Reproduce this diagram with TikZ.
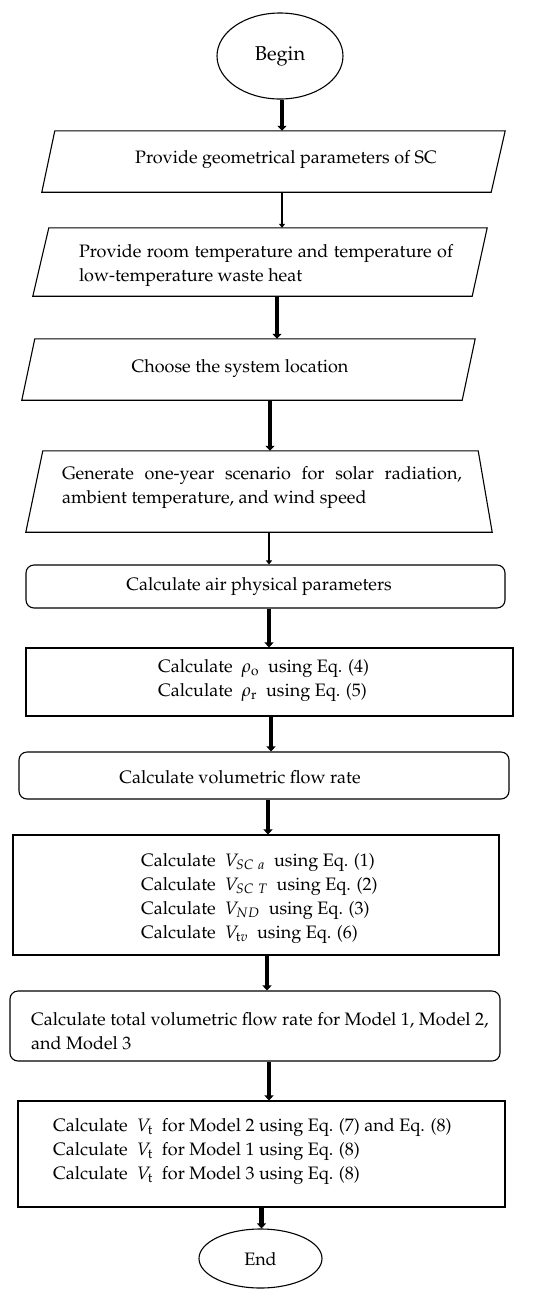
\documentclass[tikz,border=0pt]{standalone}
\usepackage[T1]{fontenc}
\usepackage{mathpazo}
\usepackage{tikz}
\usetikzlibrary{arrows.meta}
\usetikzlibrary{shapes.geometric}

\tikzset{
	edge/.style={line width=1.1pt, line join=miter},
	term/.style={ellipse, draw, edge, inner sep=0pt},
	io/.style={rectangle, inner sep=0pt},
	proc/.style={rectangle, draw, edge, inner sep=0pt},
	rproc/.style={proc, rounded corners=8pt},
	txt/.style={inner sep=0pt, font=\fontsize{18}{24}\selectfont},
	fatarrow/.style={-{Triangle[length=5pt,width=9pt]}, line width=4.5pt},
	slimarrow/.style={-{Triangle[length=4pt,width=6pt]}, line width=2.5pt}
}

\begin{document}
\begin{tikzpicture}[x=1pt,y=-1pt]
	\useasboundingbox (0,0) rectangle (550,1302);
	% shapes
	\node[term, minimum width=126pt, minimum height=86pt, font=\fontsize{20}{24}\selectfont] (begin) at (280,56) {Begin};
	\node[io, minimum width=463pt, minimum height=61pt] (p1) at (273.5,161.5) {};
	\node[io, minimum width=454pt, minimum height=68pt] (p2) at (260,262) {};
	\node[io, minimum width=453pt, minimum height=61pt] (p3) at (248.5,369.5) {};
	\node[io, minimum width=466pt, minimum height=81pt] (p4) at (259,491.5) {};
	\node[rproc, minimum width=479pt, minimum height=43pt] (b5) at (265.5,586.5) {};
	\node[proc, minimum width=487pt, minimum height=68pt] (b6) at (269.5,682) {};
	\node[rproc, minimum width=490pt, minimum height=47pt] (b7) at (264,775.5) {};
	\node[proc, minimum width=486pt, minimum height=120pt] (b8) at (256,895) {};
	\node[rproc, minimum width=490pt, minimum height=70pt] (b9) at (255,1026) {};
	\node[proc, minimum width=487pt, minimum height=106pt] (b10) at (261.5,1154) {};
	\node[term, minimum width=123pt, minimum height=59pt, font=\fontsize{18}{24}\selectfont] (end) at (260.5,1258.5) {End};

	% slanted outlines
	\draw[edge] ([xshift=13pt]p1.north west) -- (p1.north east) -- ([xshift=-14pt]p1.south east) -- (p1.south west) -- cycle;
	\draw[edge] ([xshift=16pt]p2.north west) -- (p2.north east) -- ([xshift=-15pt]p2.south east) -- (p2.south west) -- cycle;
	\draw[edge] ([xshift=13pt]p3.north west) -- (p3.north east) -- ([xshift=-13pt]p3.south east) -- (p3.south west) -- cycle;
	\draw[edge] ([xshift=17pt]p4.north west) -- ([xshift=-14pt]p4.north east) -- (p4.south east) -- (p4.south west) -- cycle;

	% texts
	\node[txt] (t1) at (286,160) {Provide geometrical parameters of SC};
	\node[txt, text width=374pt, align=justify] (t2) at (266,266) {Provide room temperature and temperature of\linebreak low-temperature waste heat};
	\node[txt] (t3) at (240,369) {Choose the system location};
	\node[txt, text width=400pt, align=justify] (t4) at (262,488) {Generate one-year scenario for solar radiation,\linebreak ambient temperature, and wind speed};
	\node[txt] (t5) at (259,587) {Calculate air physical parameters};
	\node[txt, align=left, anchor=west] (t6) at (158,681) {Calculate \ $\rho_{\mathrm{o}}$ \ using Eq. (4)\\Calculate \ $\rho_{\mathrm{r}}$ \ using Eq. (5)};
	\node[txt] (t7) at (240,777) {Calculate volumetric flow rate};
	\node[txt, align=left, anchor=west] (t8) at (141,898.5) {Calculate \ $V_{SC\ a}$ \ using Eq. (1)\\Calculate \ $V_{SC\ T}$ \ using Eq. (2)\\Calculate \ $V_{ND}$ \ using Eq. (3)\\Calculate \ $V_{\mathrm{t}v}$ \ using Eq. (6)};
	\node[txt, align=left, anchor=west] (t9) at (31,1031.5) {Calculate total volumetric flow rate for Model 1, Model 2,\\and Model 3};
	\node[txt, align=left, anchor=west] (t10) at (53,1152) {Calculate \ $V_{\mathrm{t}}$ \ for Model 2 using Eq. (7) and Eq. (8)\\Calculate \ $V_{\mathrm{t}}$ \ for Model 1 using Eq. (8)\\Calculate \ $V_{\mathrm{t}}$ \ for Model 3 using Eq. (8)};

	% arrows
	\foreach \a/\b/\dx/\s in {begin/p1/2/fatarrow, p1/p2/8.5/slimarrow, p2/p3/17/fatarrow, p3/p4/21.5/fatarrow, p4/b5/10/slimarrow, b5/b6/3.5/fatarrow, b6/b7/1.5/fatarrow, b7/b8/4/fatarrow, b8/b9/11/fatarrow, b9/b10/14/fatarrow, b10/end/0/fatarrow}
		\draw[\s] ([xshift=\dx pt]\a.south) -- ([xshift=\dx pt]\a.south |- \b.north);
\end{tikzpicture}
\end{document}
